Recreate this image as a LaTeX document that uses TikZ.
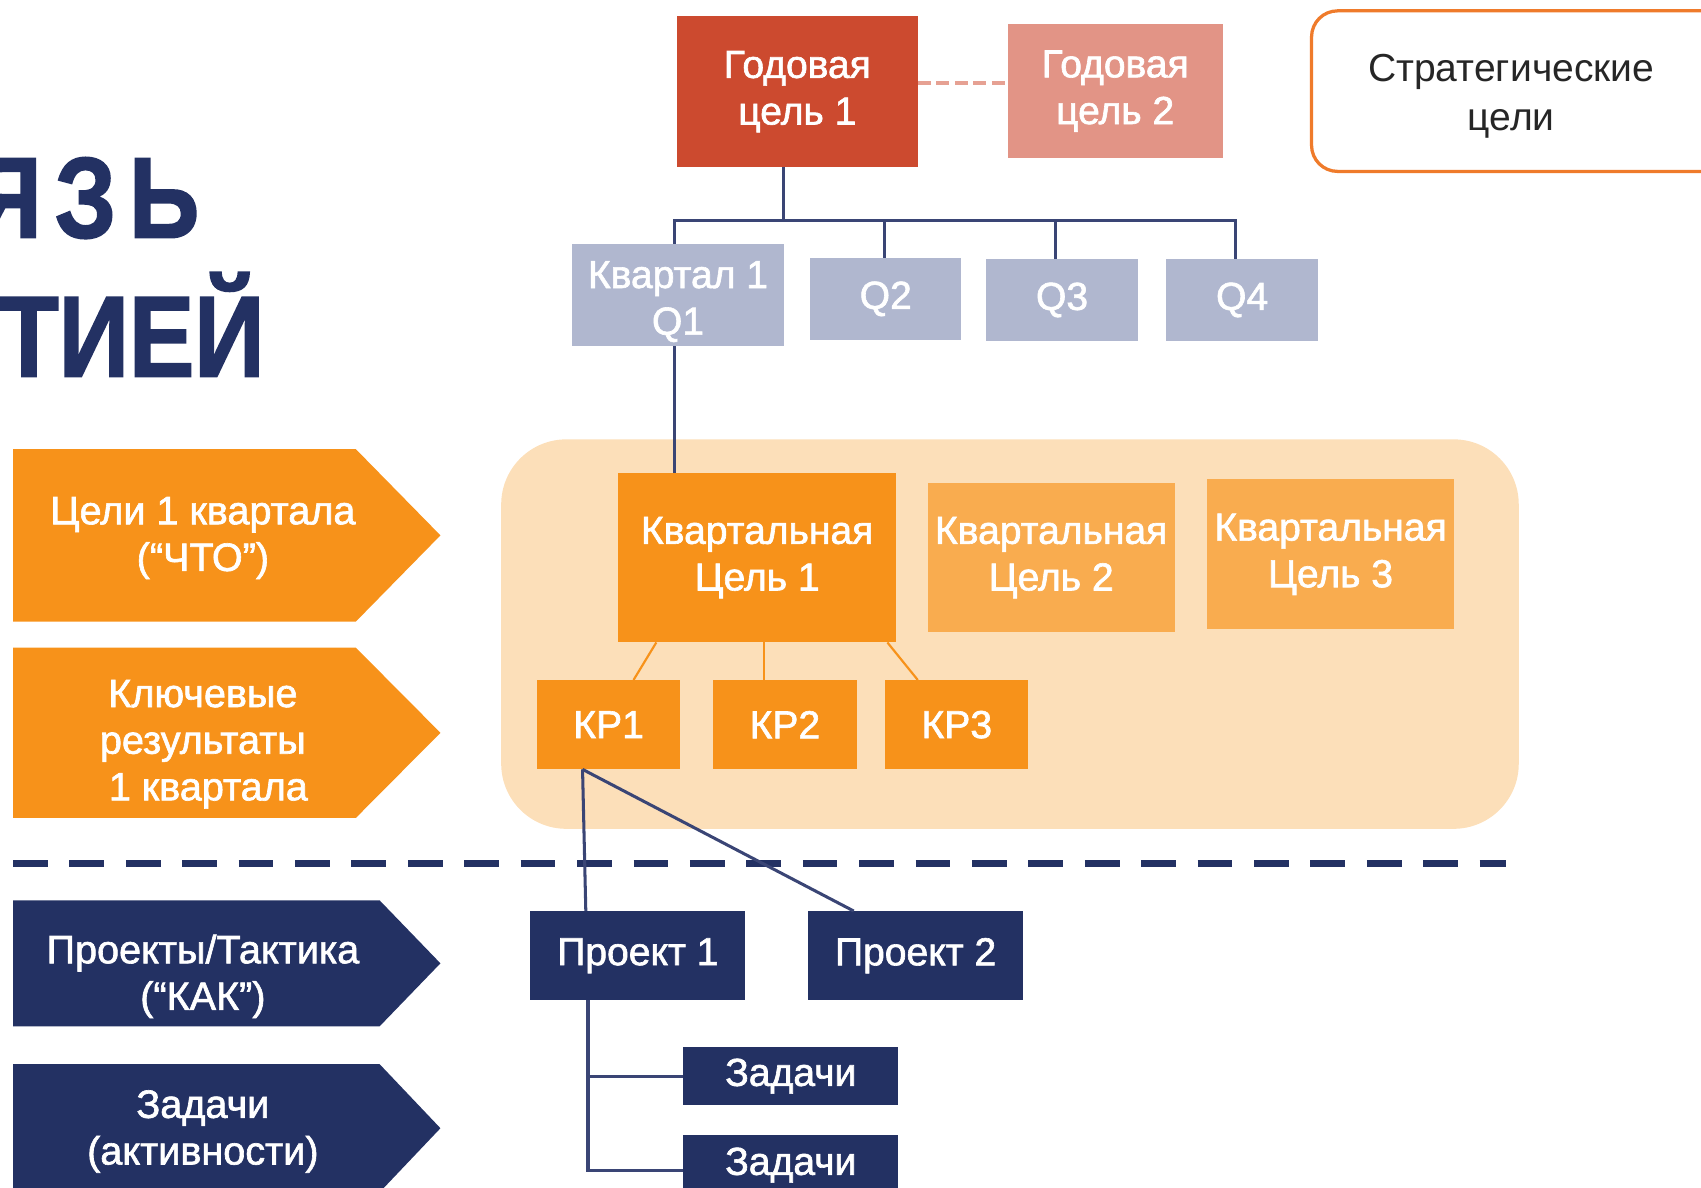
\documentclass[tikz,border=0pt]{standalone}
\usepackage{fontspec}
\setmainfont{Liberation Sans}
\newfontfamily\medf{Liberation Sans}[FakeBold=1.6]
\newfontfamily\titlef{Liberation Sans Bold}[FakeStretch=0.85,FakeBold=1.5]
\usetikzlibrary{calc}
\definecolor{navy}{HTML}{233163}
\definecolor{linenavy}{HTML}{3A4575}
\definecolor{redbox}{HTML}{CC4A2F}
\definecolor{salmon}{HTML}{E29486}
\definecolor{salmonline}{HTML}{E6A193}
\definecolor{qgray}{HTML}{B0B7CF}
\definecolor{orng}{HTML}{F7921A}
\definecolor{lorng}{HTML}{F9AC4F}
\definecolor{peach}{HTML}{FCDFB9}
\definecolor{stratline}{HTML}{EF7B2B}
\begin{document}
\begin{tikzpicture}[x=1pt,y=-1pt,
  box/.style={draw=none, inner sep=0pt, align=center, text=white,
    font=\medf\fontsize{36}{43}\selectfont},
  lbl/.style={inner sep=0pt, align=center, text=white,
    font=\medf\fontsize{36.5}{43}\selectfont},
  conn/.style={draw=linenavy, line width=2.8pt},
  oconn/.style={draw=orng, line width=2pt},
  ttl/.style={inner sep=0pt, anchor=base east, text=navy,
    font=\titlef\fontsize{106}{106}\selectfont}]
\useasboundingbox (0,0) rectangle (1568,1095);

% title (cut at the left edge, as in the reference)
\node[ttl] (t1) at (184,219) {Я\kern12ptЗ\kern12ptЬ};
\node[ttl] (t2) at (244,347) {ТИЕЙ};

% left pentagon labels
\fill[orng] (12,414) -- (328,414) -- (406,493.5) -- (328,573) -- (12,573) -- cycle;
\node[lbl] (a1) at (187,496) {Цели 1 квартала\\(“ЧТО”)};
\fill[orng] (12,597) -- (328,597) -- (406,675.5) -- (328,754) -- (12,754) -- cycle;
\node[lbl] (a2) at (187,686) {Ключевые\\результаты\\\ 1 квартала};
\fill[navy] (12,830) -- (350,830) -- (406,888) -- (350,946) -- (12,946) -- cycle;
\node[lbl] (a3) at (187,900) {Проекты/Тактика\\(“КАК”)};
\fill[navy] (12,981) -- (350,981) -- (406,1040) -- (350,1099) -- (12,1099) -- cycle;
\node[lbl] (a4) at (187,1043) {Задачи\\(активности)};

% strategic goals frame
\draw[stratline, line width=3pt, rounded corners=24pt] (1209,10) rectangle (1600,158);
\node[inner sep=0pt, align=center, text=black!85, font=\fontsize{36}{45}\selectfont] (st) at (1393,89) {Стратегические\\цели};

% annual goals
\node[box, fill=redbox, minimum width=222pt, minimum height=139pt] (g1) at (735,84.5) {Годовая\\цель 1};
\node[box, fill=salmon, minimum width=198pt, minimum height=124pt] (g2) at (1028,84) {Годовая\\цель 2};
\draw[salmonline, line width=4pt, dash pattern=on 12pt off 5pt] ([yshift=8pt]g1.east) -- ([yshift=8pt]g1.east -| g2.west);

% quarters
\node[box, fill=qgray, minimum width=196pt, minimum height=94pt,
  label={[lbl, font=\medf\fontsize{36}{43}\selectfont, yshift=-6pt]center:Квартал 1\\Q1}] (q1) at (625,272) {};
\node[box, fill=qgray, minimum width=139pt, minimum height=75pt] (q2) at (816.5,275.5) {Q2};
\node[box, fill=qgray, minimum width=140pt, minimum height=75pt] (q3) at (979,276.5) {Q3};
\node[box, fill=qgray, minimum width=140pt, minimum height=75pt] (q4) at (1145,276.5) {Q4};
\coordinate (bus) at (722,203);
\draw[conn] ([xshift=-13pt]g1.south) -- (bus);
\draw[conn] ([xshift=-3pt]q1.north) |- (bus) -| ([xshift=-6pt]q4.north);
\draw[conn] ([xshift=-1.5pt]q2.north) -- ([xshift=-1.5pt]q2.north |- bus);
\draw[conn] ([xshift=-6pt]q3.north) -- ([xshift=-6pt]q3.north |- bus);

% quarterly area
\fill[peach, rounded corners=60pt] (462,405) rectangle (1400,764);
\node[box, fill=orng, minimum width=256pt, minimum height=156pt] (k1) at (698,514) {Квартальная\\Цель 1};
\node[box, fill=lorng, minimum width=228pt, minimum height=138pt] (k2) at (969,514) {Квартальная\\Цель 2};
\node[box, fill=lorng, minimum width=227pt, minimum height=138pt] (k3) at (1226.5,511) {Квартальная\\Цель 3};
\draw[conn] ([xshift=-3pt]q1.south) -- ([xshift=-3pt]q1.south |- k1.north);

\node[box, fill=orng, minimum width=132pt, minimum height=82pt] (kp1) at (561,668) {КР1};
\node[box, fill=orng, minimum width=133pt, minimum height=82pt] (kp2) at (723.5,668) {КР2};
\node[box, fill=orng, minimum width=132pt, minimum height=82pt] (kp3) at (882,668) {КР3};
\draw[oconn] ([xshift=-93pt]k1.south) -- ([xshift=23pt]kp1.north);
\draw[oconn] ([xshift=6pt]k1.south) -- ([xshift=-19.5pt]kp2.north);
\draw[oconn] ([xshift=120pt]k1.south) -- ([xshift=-36pt]kp3.north);

% divider
\draw[navy, line width=6pt, dash pattern=on 32pt off 20pt] (12,796) -- (1388,796);

% projects and tasks
\node[box, fill=navy, minimum width=198pt, minimum height=82pt] (p1) at (588,881) {Проект 1};
\node[box, fill=navy, minimum width=198pt, minimum height=82pt] (p2) at (844,881) {Проект 2};
\draw[conn] ([xshift=-24pt]kp1.south) -- ([xshift=-48pt]p1.north);
\draw[conn] ([xshift=-24pt]kp1.south) -- ([xshift=-57pt]p2.north);

\node[box, fill=navy, minimum width=198pt, minimum height=54pt] (z1) at (729,992) {Задачи};
\node[box, fill=navy, minimum width=198pt, minimum height=56pt] (z2) at (729,1074) {Задачи};
\coordinate (pz) at ([xshift=-46pt]p1.south);
\draw[conn] (pz) |- (z1.west);
\draw[conn] (pz) |- ([yshift=-5pt]z2.west);
\end{tikzpicture}
\end{document}
